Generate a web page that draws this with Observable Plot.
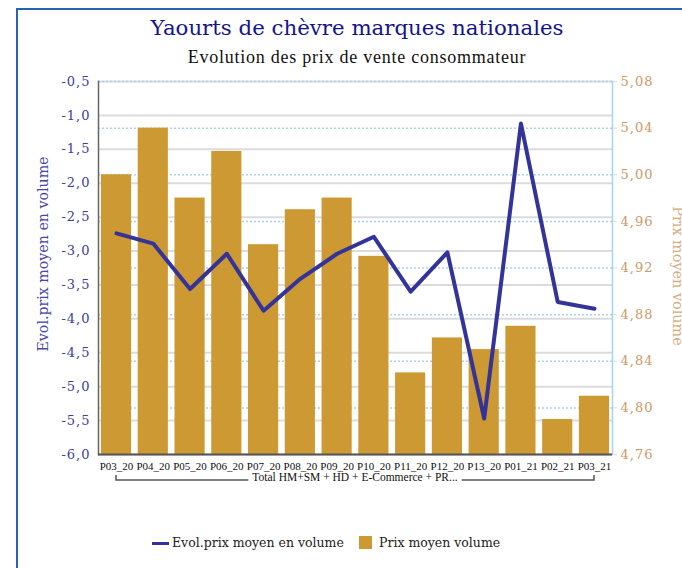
<!DOCTYPE html>
<html><head><meta charset="utf-8">
<script src="https://cdn.jsdelivr.net/npm/d3@7"></script>
<script src="https://cdn.jsdelivr.net/npm/@observablehq/plot@0.6"></script>
<style>
body{margin:0;background:#fff;}
#wrap{position:relative;width:682px;height:568px;overflow:hidden;background:#fff;}
#frame{position:absolute;left:16px;top:8px;width:720px;height:620px;border:2px solid #2563b3;box-sizing:border-box;}
.t{position:absolute;left:14px;width:686px;text-align:center;line-height:1;white-space:nowrap;}
#title{top:16.5px;font-family:"DejaVu Serif",serif;font-size:21.3px;color:#14148a;}
#sub{top:48px;font-family:"Liberation Serif",serif;font-size:18px;letter-spacing:0.75px;color:#111;}
#chart{position:absolute;left:0;top:0;}
.leg{position:absolute;font-family:"DejaVu Serif",serif;font-size:12.5px;color:#222;line-height:1;white-space:nowrap;}
</style></head>
<body><div id="wrap">
<div id="frame"></div>
<div id="chart"></div>
<div class="t" id="title"></div>
<div class="t" id="sub"></div>
<div id="legend"></div>
</div>
<script>
const categories = ["P03_20","P04_20","P05_20","P06_20","P07_20","P08_20","P09_20","P10_20","P11_20","P12_20","P13_20","P01_21","P02_21","P03_21"];
const evolPrix = [-2.74,-2.89,-3.56,-3.04,-3.88,-3.41,-3.04,-2.79,-3.60,-3.02,-5.47,-1.12,-3.75,-3.85];
const prixMoyen = [5.00,5.04,4.98,5.02,4.94,4.97,4.98,4.93,4.83,4.86,4.85,4.87,4.79,4.81];
const leftTicks = [-6,-5.5,-5,-4.5,-4,-3.5,-3,-2.5,-2,-1.5,-1,-0.5];
const rightTicks = [4.76,4.80,4.84,4.88,4.92,4.96,5.00,5.04,5.08];
const seriesNames = ["Evol.prix moyen en volume","Prix moyen volume"];
const groupLabel = "Total HM+SM + HD + E-Commerce + PR...";
const titleText = "Yaourts de chèvre marques nationales";
const subtitleText = "Evolution des prix de vente consommateur";

const L0 = leftTicks[0], L1 = leftTicks[leftTicks.length-1];
const R0 = rightTicks[0], R1 = rightTicks[rightTicks.length-1];
const toLeft = v => L0 + (v - R0) / (R1 - R0) * (L1 - L0);
const toRight = y => R0 + (y - L0) / (L1 - L0) * (R1 - R0);
const data = categories.map((c,i) => ({cat:c, evol:evolPrix[i], prix:prixMoyen[i]}));
const fmt1 = d => d.toFixed(1).replace(".", ",");
const fmt2 = d => toRight(d).toFixed(2).replace(".", ",");

document.getElementById("title").textContent = titleText;
document.getElementById("sub").textContent = subtitleText;

const chart = Plot.plot({
  width: 682, height: 568,
  marginLeft: 98, marginRight: 70, marginTop: 81, marginBottom: 114,
  style: {fontFamily: "'DejaVu Serif', serif", background: "transparent", overflow: "visible"},
  x: {domain: categories, paddingInner: 0.18, paddingOuter: 0.08, round: false, axis: null},
  y: {domain: [L0, L1]},
  marks: [
    Plot.ruleY(leftTicks, {stroke: "#dcdcdc", strokeWidth: 2}),
    Plot.ruleY(rightTicks.map(toLeft), {stroke: "#a9d1f7", strokeWidth: 1.5, strokeDasharray: "2,2"}),
    Plot.barY(data, {x: "cat", y1: L0, y2: d => toLeft(d.prix), fill: "#CC9933"}),
    Plot.line(data, {x: "cat", y: "evol", stroke: "#333399", strokeWidth: 4}),
    Plot.frame({anchor: "left", stroke: "#666", strokeWidth: 1.5}),
    Plot.frame({anchor: "right", stroke: "#a9d1f7", strokeWidth: 1.5}),
    Plot.ruleY([L0], {stroke: "#555", strokeWidth: 2}),
    Plot.axisY(leftTicks, {anchor: "left", tickSize: 0, tickPadding: 8, tickFormat: fmt1, fill: "#3d3d9e", fontSize: 13, label: null}),
    Plot.axisY(rightTicks.map(toLeft), {anchor: "right", tickSize: 4, stroke: "#dddddd", tickPadding: 4, tickFormat: fmt2, fill: "#CC9966", fontSize: 13, label: null}),
    Plot.text(categories, {x: d => d, frameAnchor: "bottom", dy: 15.2, fontFamily: "'Liberation Serif', serif", fontSize: 11, fill: "#111"}),
    Plot.text([seriesNames[0]], {frameAnchor: "left", textAnchor: "middle", dx: -55, dy: -14, rotate: -90, fill: "#4646a6", fontSize: 14.2}),
    Plot.text([seriesNames[1]], {frameAnchor: "right", textAnchor: "middle", dx: 65, dy: 8, rotate: 90, fill: "#d8ac80", fontSize: 14.4}),
  ]
});
document.getElementById("chart").appendChild(chart);
const svg = d3.select(chart);
svg.selectAll('g[aria-label="y-axis tick label"] text').style("letter-spacing", "1px");

// group bracket under the x axis, positioned with Plot's x scale
const xs = chart.scale("x");
const bx1 = xs.apply(categories[0]) + xs.bandwidth / 2;
const bx2 = xs.apply(categories[categories.length-1]) + xs.bandwidth / 2;
const by = 480;
const g = svg.append("g");
g.append("path").attr("d", `M${bx1},${by-5}V${by}H${bx2}V${by-5}`).attr("fill","none").attr("stroke","#555").attr("stroke-width",1.5);
const gt = g.append("text").attr("x", (bx1+bx2)/2).attr("y", by+1).attr("text-anchor","middle")
  .attr("font-family","'Liberation Serif', serif").attr("font-size", 11.5).attr("fill","#111").text(groupLabel);
const bb = gt.node().getBBox();
g.insert("rect", "text").attr("x", bb.x-4).attr("y", by-2).attr("width", bb.width+8).attr("height", 4).attr("fill","#fff");

// legend
const leg = document.getElementById("legend");
leg.innerHTML = `
<div style="position:absolute;left:152px;top:542px;width:17px;height:3px;background:#333399"></div>
<div class="leg" style="left:172px;top:537px">${seriesNames[0]}</div>
<div style="position:absolute;left:359px;top:536px;width:13px;height:13px;background:#CC9933"></div>
<div class="leg" style="left:379px;top:537px">${seriesNames[1]}</div>`;
</script>
</body></html>
